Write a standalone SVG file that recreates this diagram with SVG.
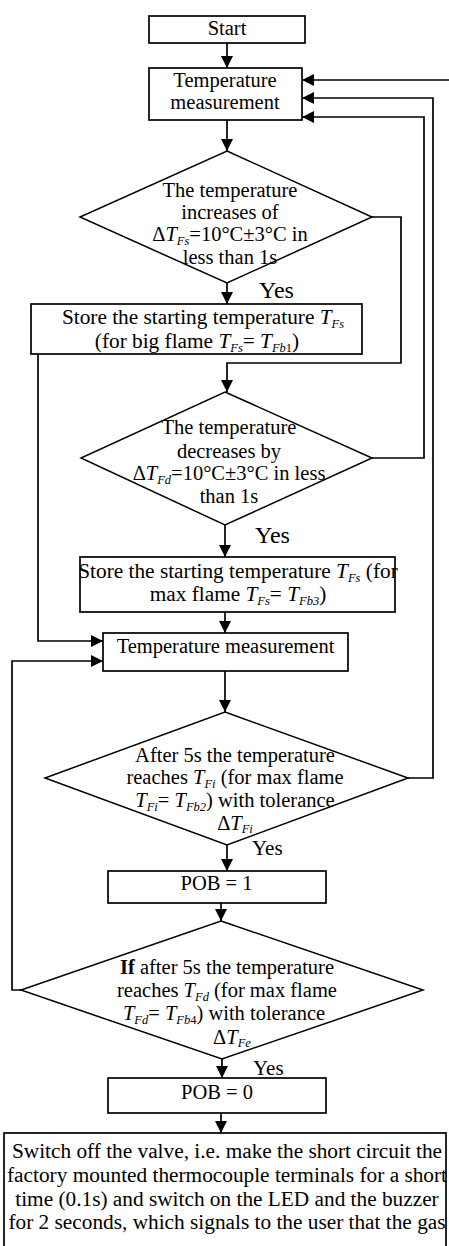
<svg xmlns="http://www.w3.org/2000/svg" width="449" height="1246" viewBox="0 0 449 1246">
<style>
text { font-family: "Liberation Serif", "Times New Roman", serif; font-size: 20.5px; fill: #000; text-anchor: middle; }
.box { fill: #fff; stroke: #000; stroke-width: 1.7; }
.dec { fill: #fff; stroke: #000; stroke-width: 1.5; }
.conn { fill: none; stroke: #000; stroke-width: 1.7; marker-end: url(#arr); }
.i { font-style: italic; }
.sub { font-style: italic; font-size: 12.5px; }
.subr { font-size: 12.5px; }
.yes { text-anchor: start; font-size: 24px; }
.yes2 { text-anchor: start; font-size: 21px; }
.big { font-size: 21.3px; }
</style>
<defs>
<marker id="arr" markerUnits="userSpaceOnUse" markerWidth="12" markerHeight="12" refX="12" refY="6" orient="auto"><path d="M0,0 L12,6 L0,12 z" fill="#000"/></marker>
</defs>
<rect width="449" height="1246" fill="#fff"/>

<g id="connectors">
<path class="conn" d="M227,43 V68"/>
<path class="conn" d="M227,120 V151"/>
<path class="conn" d="M227,283 V304"/>
<path class="conn" d="M372,217 H401 V363 H227 V392"/>
<path class="conn" d="M38,354 V641 H103"/>
<path class="conn" d="M372,458 H424 V117 H302"/>
<path class="conn" d="M225,525 V557"/>
<path class="conn" d="M225,612 V633"/>
<path class="conn" d="M225,671 V712"/>
<path class="conn" d="M408,778 H433 V98 H302"/>
<path class="conn" d="M227,845 V871"/>
<path class="conn" d="M221,903 V921"/>
<path class="conn" d="M21,990 H12 V661 H103"/>
<path class="conn" d="M222,1059 V1078"/>
<path class="conn" d="M221,1113 V1133"/>
<path class="conn" d="M449,80 H302"/>
<text class="yes" x="259" y="298">Yes</text>
<text class="yes" x="255" y="543">Yes</text>
<text class="yes2" x="252" y="855">Yes</text>
<text class="yes2" x="253" y="1075">Yes</text>
</g>

<g id="start">
<rect class="box" x="149" y="16" width="156" height="27"/>
<text x="227" y="35">Start</text>
</g>

<g id="temp1">
<rect class="box" x="149" y="68" width="153" height="52"/>
<text x="225" y="87">Temperature</text>
<text x="225" y="109">measurement</text>
</g>

<g id="dec1">
<polygon class="dec" points="227,151 372,217 227,283 80,217"/>
<text x="230" y="197">The temperature</text>
<text x="230" y="218.5">increases of</text>
<text x="230" y="241">Δ<tspan class="i">T</tspan><tspan class="sub" dy="3.5">Fs</tspan><tspan dy="-3.5">=10°C±3°C in</tspan></text>
<text x="230" y="263.5">less than 1s</text>
</g>

<g id="store1">
<rect class="box" x="31" y="304" width="331" height="50"/>
<text class="big" x="203" y="324">Store the starting temperature <tspan class="i">T</tspan><tspan class="sub" dy="3.5">Fs</tspan></text>
<text class="big" x="197" y="348">(for big flame <tspan class="i">T</tspan><tspan class="sub" dy="3.5">Fs</tspan><tspan dy="-3.5">= </tspan><tspan class="i">T</tspan><tspan class="sub" dy="3.5">Fb</tspan><tspan class="subr">1</tspan><tspan dy="-3.5">)</tspan></text>
</g>

<g id="dec2">
<polygon class="dec" points="225,392 372,458 225,525 81,458"/>
<text x="229" y="434">The temperature</text>
<text x="229" y="457.5">decreases by</text>
<text x="229" y="480">Δ<tspan class="i">T</tspan><tspan class="sub" dy="3.5">Fd</tspan><tspan dy="-3.5">=10°C±3°C in less</tspan></text>
<text x="229" y="502.5">than 1s</text>
</g>

<g id="store2">
<rect class="box" x="80" y="557" width="315" height="55"/>
<text class="big" x="238" y="578">Store the starting temperature <tspan class="i">T</tspan><tspan class="sub" dy="3.5">Fs</tspan><tspan dy="-3.5"> (for</tspan></text>
<text class="big" x="238" y="601">max flame <tspan class="i">T</tspan><tspan class="sub" dy="3.5">Fs</tspan><tspan dy="-3.5">= </tspan><tspan class="i">T</tspan><tspan class="sub" dy="3.5">Fb3</tspan><tspan dy="-3.5">)</tspan></text>
</g>

<g id="temp2">
<rect class="box" x="103" y="633" width="245" height="38"/>
<text x="225.5" y="653">Temperature measurement</text>
</g>

<g id="dec3">
<polygon class="dec" points="225,712 408,778 227,845 45,778"/>
<text x="235" y="762">After 5s the temperature</text>
<text x="235" y="784">reaches <tspan class="i">T</tspan><tspan class="sub" dy="3.5">Fi</tspan><tspan dy="-3.5"> (for max flame</tspan></text>
<text x="235" y="807"><tspan class="i">T</tspan><tspan class="sub" dy="3.5">Fi</tspan><tspan dy="-3.5">= </tspan><tspan class="i">T</tspan><tspan class="sub" dy="3.5">Fb2</tspan><tspan dy="-3.5">) with tolerance</tspan></text>
<text x="235" y="829.5">Δ<tspan class="i">T</tspan><tspan class="sub" dy="3.5">Fi</tspan></text>
</g>

<g id="pob1">
<rect class="box" x="108" y="871" width="218" height="32"/>
<text x="216.5" y="890">POB = 1</text>
</g>

<g id="dec4">
<polygon class="dec" points="221,921 423,990 222,1059 21,990"/>
<text x="227" y="974"><tspan font-weight="bold">If</tspan> after 5s the temperature</text>
<text x="227" y="997">reaches <tspan class="i">T</tspan><tspan class="sub" dy="3.5">Fd</tspan><tspan dy="-3.5"> (for max flame</tspan></text>
<text x="224" y="1020"><tspan class="i">T</tspan><tspan class="sub" dy="3.5">Fd</tspan><tspan dy="-3.5">= </tspan><tspan class="i">T</tspan><tspan class="sub" dy="3.5">Fb</tspan><tspan class="subr">4</tspan><tspan dy="-3.5">) with tolerance</tspan></text>
<text x="232" y="1043.5">Δ<tspan class="i">T</tspan><tspan class="sub" dy="3.5">Fe</tspan></text>
</g>

<g id="pob0">
<rect class="box" x="108" y="1078" width="218" height="35"/>
<text x="217" y="1099">POB = 0</text>
</g>

<g id="switchoff">
<rect class="box" x="4" y="1133" width="442" height="130"/>
<text class="big" x="227" y="1158">Switch off the valve, i.e. make the short circuit the</text>
<text class="big" x="227" y="1182">factory mounted thermocouple terminals for a short</text>
<text class="big" x="227" y="1206">time (0.1s) and switch on the LED and the buzzer</text>
<text class="big" x="227" y="1229">for 2 seconds, which signals to the user that the gas</text>
</g>
</svg>
